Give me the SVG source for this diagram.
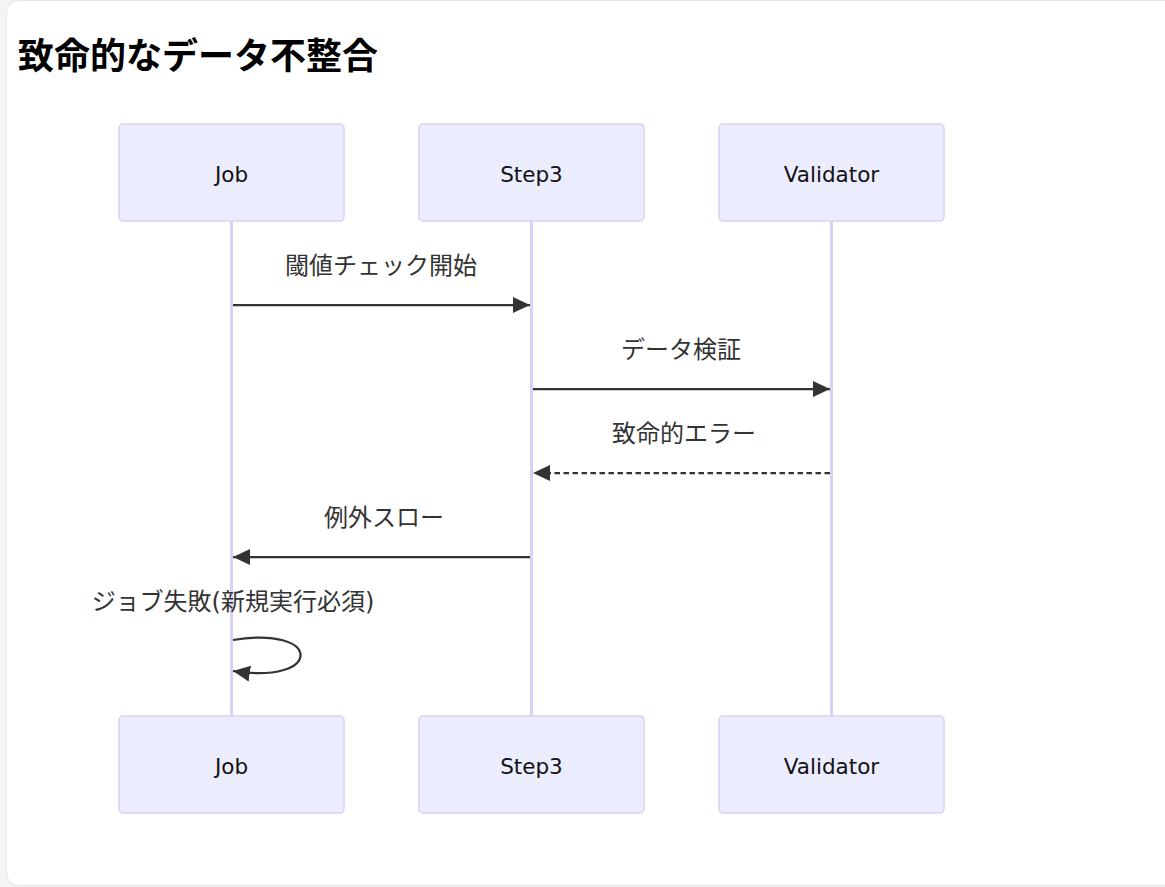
<svg xmlns="http://www.w3.org/2000/svg" width="1165" height="887" viewBox="0 0 1165 887">
<style>
.actor{fill:#ececff;stroke:#dccff5;stroke-width:1.5}
.atext{font-family:"DejaVu Sans","Noto Sans CJK JP",sans-serif;font-size:21.5px;fill:#111;text-anchor:middle;dominant-baseline:central}
.life{stroke:#dccff5;stroke-width:3}
.msg{stroke:#333;stroke-width:2.25;fill:none}
.dash{stroke-dasharray:5.5,3.5}
.mtext{font-family:"DejaVu Sans","Noto Sans CJK JP",sans-serif;font-size:24px;fill:#333;text-anchor:middle;dominant-baseline:central}
.title{font-family:"Noto Sans CJK JP",sans-serif;font-size:36px;font-weight:bold;fill:#000}
</style>
<defs>
<marker id="ah" viewBox="0 0 10 10" refX="10" refY="5" markerWidth="17" markerHeight="16" markerUnits="userSpaceOnUse" orient="auto" preserveAspectRatio="none">
<path d="M0,0 L10,5 L0,10 z" fill="#333"/>
</marker>
</defs>
<rect x="0" y="0" width="1165" height="887" fill="#f4f4f4"/>
<rect x="6.5" y="0.5" width="1180" height="885" rx="12" fill="#fff" stroke="#e6e6e6"/>
<text class="title" x="18" y="69">致命的なデータ不整合</text>
<g id="lifelines">
<line class="life" x1="231.5" y1="221" x2="231.5" y2="716"/>
<line class="life" x1="531.5" y1="221" x2="531.5" y2="716"/>
<line class="life" x1="831.5" y1="221" x2="831.5" y2="716"/>
</g>
<g id="actor-job-top"><rect class="actor" x="119" y="124" width="225" height="97" rx="4"/><text class="atext" x="231.5" y="174">Job</text></g>
<g id="actor-step3-top"><rect class="actor" x="419" y="124" width="225" height="97" rx="4"/><text class="atext" x="531.5" y="174">Step3</text></g>
<g id="actor-validator-top"><rect class="actor" x="719" y="124" width="225" height="97" rx="4"/><text class="atext" x="831.5" y="174">Validator</text></g>
<g id="actor-job-bottom"><rect class="actor" x="119" y="716" width="225" height="97" rx="4"/><text class="atext" x="231.5" y="766">Job</text></g>
<g id="actor-step3-bottom"><rect class="actor" x="419" y="716" width="225" height="97" rx="4"/><text class="atext" x="531.5" y="766">Step3</text></g>
<g id="actor-validator-bottom"><rect class="actor" x="719" y="716" width="225" height="97" rx="4"/><text class="atext" x="831.5" y="766">Validator</text></g>
<g id="connectors">
<line class="msg" x1="233" y1="305" x2="530" y2="305" marker-end="url(#ah)"/>
<text class="mtext" x="381" y="266">閾値チェック開始</text>
<line class="msg" x1="533" y1="389" x2="830" y2="389" marker-end="url(#ah)"/>
<text class="mtext" x="681" y="350">データ検証</text>
<line class="msg dash" x1="830" y1="473" x2="533" y2="473" marker-end="url(#ah)"/>
<text class="mtext" x="684" y="434">致命的エラー</text>
<line class="msg" x1="530" y1="557" x2="233" y2="557" marker-end="url(#ah)"/>
<text class="mtext" x="384" y="518">例外スロー</text>
<path class="msg" d="M233,640 C323,625 323,685 233,671" marker-end="url(#ah)"/>
<text class="mtext" x="233" y="602">ジョブ失敗(新規実行必須)</text>
</g>
</svg>
